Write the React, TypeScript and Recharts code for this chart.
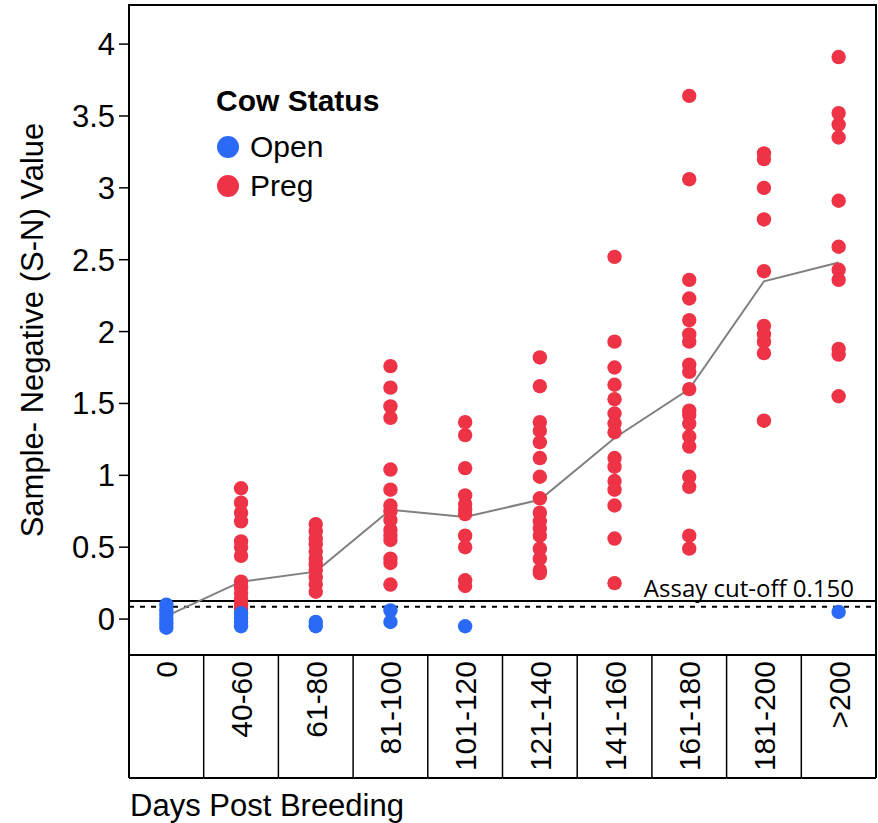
import React from "react";
import {
  ComposedChart,
  Scatter,
  Line,
  XAxis,
  YAxis,
  ReferenceLine,
  ReferenceArea,
  Legend,
} from "recharts";

const CATEGORIES = [
  "0", "40-60", "61-80", "81-100", "101-120",
  "121-140", "141-160", "161-180", "181-200", ">200",
];

// pregnant cows, one list per category
const PREG_VALUES: number[][] = [
  [],
  [0.91, 0.81, 0.74, 0.68, 0.54, 0.5, 0.44, 0.26, 0.22, 0.18, 0.14, 0.1, 0.07],
  [0.66, 0.61, 0.56, 0.52, 0.47, 0.42, 0.38, 0.34, 0.29, 0.24, 0.19],
  [1.76, 1.61, 1.48, 1.4, 1.04, 0.9, 0.79, 0.75, 0.69, 0.62, 0.58, 0.55, 0.42, 0.39, 0.24],
  [1.37, 1.28, 1.05, 0.86, 0.8, 0.76, 0.73, 0.58, 0.5, 0.27, 0.23],
  [1.82, 1.62, 1.37, 1.31, 1.23, 1.12, 0.99, 0.84, 0.74, 0.68, 0.63, 0.58, 0.49, 0.42, 0.34, 0.32],
  [2.52, 1.93, 1.75, 1.63, 1.53, 1.43, 1.36, 1.3, 1.12, 1.06, 0.96, 0.9, 0.79, 0.56, 0.25],
  [3.64, 3.06, 2.36, 2.23, 2.08, 1.98, 1.93, 1.77, 1.72, 1.6, 1.45, 1.42, 1.36, 1.27, 1.2, 0.99, 0.92, 0.58, 0.49],
  [3.24, 3.2, 3.0, 2.78, 2.42, 2.04, 1.98, 1.93, 1.85, 1.38],
  [3.91, 3.52, 3.44, 3.35, 2.91, 2.59, 2.43, 2.36, 1.88, 1.84, 1.55],
];

// open cows
const OPEN_VALUES: number[][] = [
  [0.1, 0.06, 0.03, 0.0, -0.03, -0.06],
  [0.04, 0.01, -0.02, -0.05],
  [-0.02, -0.05],
  [0.06, -0.02],
  [-0.05],
  [],
  [],
  [],
  [],
  [0.05],
];

const MEAN_VALUES = [0.02, 0.26, 0.33, 0.76, 0.71, 0.83, 1.26, 1.6, 2.35, 2.48];

const Y_TICKS = [0, 0.5, 1, 1.5, 2, 2.5, 3, 3.5, 4];
const Y_DOMAIN = [-0.25, 4.272];
const CUTOFF = 0.125;
const CUTOFF_DASHED = 0.085;

const RED = "#ee3347";
const BLUE = "#2a6af6";
const FONT = "'Liberation Sans', Arial, sans-serif";

const W = 878;
const H = 823;
const MARGIN = { top: 5, right: 2, bottom: 0, left: 0 };
const Y_AXIS_W = 129;
const X_AXIS_H = 168;
const TABLE_H = 123;
const COL_HALF = (W - MARGIN.left - MARGIN.right - Y_AXIS_W) / CATEGORIES.length / 2;

const meanRows = CATEGORIES.map((_, i) => ({ x: i, mean: MEAN_VALUES[i] }));
const pregPoints = PREG_VALUES.flatMap((vals, i) => vals.map((v) => ({ x: i, y: v })));
const openPoints = OPEN_VALUES.flatMap((vals, i) => vals.map((v) => ({ x: i, y: v })));

const dot = (color: string) => (p: any) => (
  <circle cx={p.cx} cy={p.cy} r={7.2} fill={color} />
);

function CategoryTick({ x, y, payload }: any) {
  const i = payload.value;
  return (
    <g>
      <text
        transform={`translate(${x + 11},${y + 6}) rotate(-90)`}
        textAnchor="end"
        fontSize={30}
        fontFamily={FONT}
        fill="#000"
      >
        {CATEGORIES[i]}
      </text>
      {i === 0 && (
        <line x1={x - COL_HALF} x2={x - COL_HALF} y1={y} y2={y + TABLE_H} stroke="#000" strokeWidth={2} />
      )}
      <line
        x1={x + COL_HALF}
        x2={x + COL_HALF}
        y1={y}
        y2={y + TABLE_H}
        stroke="#000"
        strokeWidth={i === CATEGORIES.length - 1 ? 2 : 1.5}
      />
      <line x1={x - COL_HALF} x2={x + COL_HALF} y1={y + TABLE_H} y2={y + TABLE_H} stroke="#000" strokeWidth={2} />
    </g>
  );
}

function LegendBox() {
  const items = [
    { name: "Open", color: BLUE },
    { name: "Preg", color: RED },
  ];
  return (
    <div style={{ fontFamily: FONT, color: "#000" }}>
      <div style={{ fontWeight: "bold", fontSize: 30, lineHeight: "32px" }}>Cow Status</div>
      <div style={{ marginTop: 10 }}>
        {items.map((it) => (
          <div key={it.name} style={{ display: "flex", alignItems: "center", height: 39 }}>
            <span
              style={{
                display: "inline-block",
                width: 22,
                height: 22,
                borderRadius: "50%",
                background: it.color,
                marginLeft: 1,
                marginRight: 11,
              }}
            />
            <span style={{ fontSize: 30 }}>{it.name}</span>
          </div>
        ))}
      </div>
    </div>
  );
}

export default function App() {
  return (
    <div style={{ position: "absolute", left: 0, top: 0, width: W, height: H, background: "#fff", fontFamily: FONT }}>
      <ComposedChart width={W} height={H} data={meanRows} margin={MARGIN}>
        <ReferenceArea
          x1={-0.5}
          x2={9.5}
          y1={Y_DOMAIN[0]}
          y2={Y_DOMAIN[1]}
          fill="none"
          stroke="#000"
          strokeWidth={2}
          fillOpacity={0}
        />
        <XAxis
          dataKey="x"
          type="number"
          domain={[-0.5, 9.5]}
          ticks={CATEGORIES.map((_, i) => i)}
          interval={0}
          tickLine={false}
          tickSize={0}
          tickMargin={0}
          height={X_AXIS_H}
          axisLine={{ stroke: "#000", strokeWidth: 2 }}
          tick={<CategoryTick />}
          label={{
            content: (p: any) => (
              <text
                x={p.viewBox.x + 1}
                y={p.viewBox.y + p.viewBox.height - 7}
                fontSize={31}
                fontFamily={FONT}
                fill="#000"
              >
                Days Post Breeding
              </text>
            ),
          }}
        />
        <YAxis
          type="number"
          domain={Y_DOMAIN}
          allowDataOverflow
          ticks={Y_TICKS}
          interval={0}
          width={Y_AXIS_W}
          tickSize={10}
          tickMargin={4}
          axisLine={{ stroke: "#000", strokeWidth: 2 }}
          tickLine={{ stroke: "#000", strokeWidth: 1.5 }}
          tick={{ fontSize: 31, fill: "#000", fontFamily: FONT }}
          label={{
            content: (p: any) => {
              const cx = p.viewBox.x + 43;
              const cy = p.viewBox.y + p.viewBox.height / 2;
              return (
                <text
                  x={cx}
                  y={cy}
                  transform={`rotate(-90 ${cx} ${cy})`}
                  textAnchor="middle"
                  fontSize={31}
                  fontFamily={FONT}
                  fill="#000"
                >
                  Sample- Negative (S-N) Value
                </text>
              );
            },
          }}
        />
        <ReferenceLine y={CUTOFF_DASHED} stroke="#000" strokeWidth={2} strokeDasharray="5 6" />
        <ReferenceLine
          y={CUTOFF}
          stroke="#000"
          strokeWidth={2}
          label={{
            content: (p: any) => (
              <text
                x={p.viewBox.x + p.viewBox.width - 22}
                y={p.viewBox.y - 4}
                textAnchor="end"
                fontSize={24}
                fontFamily="'Open Sans', sans-serif"
                fill="#000"
              >
                Assay cut-off 0.150
              </text>
            ),
          }}
        />
        <Line
          dataKey="mean"
          stroke="#808080"
          strokeWidth={2}
          dot={false}
          legendType="none"
          isAnimationActive={false}
        />
        <Scatter name="Preg" data={pregPoints} dataKey="y" fill={RED} shape={dot(RED)} isAnimationActive={false} />
        <Scatter name="Open" data={openPoints} dataKey="y" fill={BLUE} shape={dot(BLUE)} isAnimationActive={false} />
        <Legend
          layout="vertical"
          align="center"
          verticalAlign="middle"
          wrapperStyle={{ left: 216, top: 85, width: "auto" }}
          content={() => <LegendBox />}
        />
      </ComposedChart>
    </div>
  );
}
